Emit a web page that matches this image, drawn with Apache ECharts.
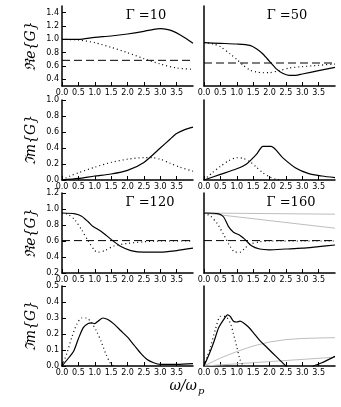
<!DOCTYPE html>
<html>
<head>
<meta charset="utf-8">
<script src="https://cdn.jsdelivr.net/npm/echarts@6/dist/echarts.min.js"></script>
<style>
html, body { margin: 0; padding: 0; background: #fff; }
#chart { width: 341px; height: 407px; }
</style>
</head>
<body>
<div id="chart"></div>
<script>
// tick labels
const xTicks = [0, 0.5, 1, 1.5, 2, 2.5, 3, 3.5]
const reTicksTop = [0.4, 0.6, 0.8, 1.0, 1.2, 1.4]
const imTicksTop = [0, 0.2, 0.4, 0.6, 0.8, 1.0]
const reTicksLow = [0.2, 0.4, 0.6, 0.8, 1.0, 1.2]
const imTicksLow = [0, 0.1, 0.2, 0.3, 0.4, 0.5]
const gammas = ['10', '50', '120', '160']

// Gamma = 10
const g10ReSolid = [[0, 1.0], [0.5, 1.0], [1.0, 1.03], [1.5, 1.05], [2.0, 1.08], [2.5, 1.12], [2.8, 1.15], [3.0, 1.16], [3.2, 1.15], [3.4, 1.12], [3.6, 1.07], [3.8, 1.01], [4.0, 0.94]]
const g10ReDotted = [[0, 1.0], [0.5, 0.99], [1.0, 0.95], [1.5, 0.88], [2.0, 0.80], [2.5, 0.71], [3.0, 0.63], [3.5, 0.57], [4.0, 0.55]]
const g10ReDashed = [[0, 0.685], [4, 0.685]]
const g10ImSolid = [[0, 0], [0.5, 0.02], [1.0, 0.05], [1.5, 0.075], [2.0, 0.12], [2.5, 0.22], [3.0, 0.40], [3.3, 0.51], [3.5, 0.58], [3.75, 0.63], [4.0, 0.66]]
const g10ImDotted = [[0, 0], [0.25, 0.05], [0.5, 0.09], [1.0, 0.16], [1.5, 0.22], [2.0, 0.26], [2.5, 0.28], [2.75, 0.28], [3.0, 0.26], [3.3, 0.21], [3.6, 0.16], [4.0, 0.11]]

// Gamma = 50
const g50ReSolid = [[0, 0.95], [0.5, 0.94], [1.0, 0.93], [1.4, 0.91], [1.6, 0.86], [1.8, 0.78], [2.0, 0.67], [2.2, 0.56], [2.4, 0.49], [2.6, 0.46], [2.8, 0.46], [3.0, 0.48], [3.5, 0.53], [4.0, 0.58]]
const g50ReDotted = [[0, 0.95], [0.3, 0.93], [0.5, 0.89], [0.8, 0.78], [1.0, 0.70], [1.2, 0.61], [1.4, 0.54], [1.6, 0.51], [1.8, 0.50], [2.0, 0.50], [2.3, 0.53], [2.6, 0.57], [3.0, 0.59], [3.5, 0.61], [4.0, 0.63]]
const g50ReDashed = [[0, 0.645], [4, 0.645]]
const g50ImSolid = [[0, 0], [0.5, 0.07], [1.0, 0.14], [1.3, 0.2], [1.6, 0.32], [1.8, 0.42], [2.05, 0.42], [2.4, 0.28], [2.8, 0.15], [3.2, 0.08], [3.6, 0.05], [4.0, 0.03]]
const g50ImDotted = [[0, 0], [0.25, 0.09], [0.5, 0.17], [0.75, 0.24], [1.0, 0.28], [1.2, 0.27], [1.4, 0.23], [1.6, 0.16], [1.8, 0.09], [2.0, 0.04], [2.2, 0.01], [2.4, 0.0]]

// Gamma = 120
const g120ReSolid = [[0, 0.95], [0.4, 0.94], [0.6, 0.91], [0.8, 0.84], [0.95, 0.78], [1.2, 0.72], [1.5, 0.62], [1.8, 0.53], [2.1, 0.48], [2.5, 0.46], [3.0, 0.46], [3.5, 0.48], [4.0, 0.51]]
const g120ReDotted = [[0, 0.95], [0.2, 0.93], [0.4, 0.86], [0.6, 0.74], [0.8, 0.60], [1.0, 0.48], [1.1, 0.46], [1.3, 0.48], [1.6, 0.54], [2.0, 0.57], [2.5, 0.59], [3.0, 0.6], [4.0, 0.6]]
const g120ReDashed = [[0, 0.605], [4, 0.605]]
const g120ImSolid = [[0, 0], [0.2, 0.05], [0.35, 0.09], [0.5, 0.17], [0.65, 0.24], [0.8, 0.265], [0.9, 0.27], [1.0, 0.265], [1.1, 0.28], [1.25, 0.30], [1.4, 0.29], [1.6, 0.26], [1.8, 0.22], [2.0, 0.18], [2.2, 0.13], [2.4, 0.08], [2.6, 0.04], [2.8, 0.02], [3.0, 0.01], [3.5, 0.01], [4.0, 0.015]]
const g120ImDotted = [[0, 0], [0.15, 0.08], [0.3, 0.18], [0.45, 0.26], [0.6, 0.3], [0.75, 0.3], [0.9, 0.27], [1.05, 0.22], [1.2, 0.15], [1.35, 0.07], [1.5, 0.01], [1.6, 0]]

// Gamma = 160
const g160ReSolid = [[0, 0.95], [0.45, 0.94], [0.6, 0.90], [0.75, 0.78], [0.9, 0.71], [1.1, 0.67], [1.25, 0.62], [1.45, 0.54], [1.7, 0.5], [2.0, 0.49], [2.5, 0.5], [3.0, 0.51], [3.5, 0.53], [4.0, 0.55]]
const g160ReDotted = [[0, 0.95], [0.2, 0.91], [0.4, 0.82], [0.6, 0.68], [0.8, 0.53], [0.95, 0.46], [1.1, 0.46], [1.25, 0.51], [1.4, 0.56], [1.7, 0.59], [2.0, 0.6], [3.0, 0.6], [4.0, 0.6]]
const g160ReDashed = [[0, 0.605], [4, 0.605]]
const g160ReGrayA = [[0, 0.95], [4, 0.935]]
const g160ReGrayB = [[0, 0.95], [4, 0.76]]
const g160ImSolid = [[0, 0], [0.15, 0.07], [0.3, 0.15], [0.45, 0.24], [0.6, 0.29], [0.72, 0.32], [0.8, 0.31], [0.9, 0.28], [1.0, 0.275], [1.1, 0.28], [1.2, 0.27], [1.35, 0.245], [1.5, 0.21], [1.7, 0.16], [1.9, 0.12], [2.1, 0.08], [2.3, 0.04], [2.5, 0.0], [2.7, -0.03], [3.0, -0.04], [3.35, 0.0], [3.6, 0.02], [4.0, 0.06]]
const g160ImDotted = [[0, 0], [0.1, 0.06], [0.2, 0.12], [0.35, 0.23], [0.5, 0.31], [0.65, 0.31], [0.8, 0.27], [0.9, 0.2], [1.0, 0.12], [1.1, 0.04], [1.2, 0]]
const g160ImGrayA = [[0, 0], [0.5, 0.05], [1.0, 0.09], [1.5, 0.125], [2.0, 0.15], [2.5, 0.165], [3.0, 0.172], [3.5, 0.175], [4.0, 0.177]]
const g160ImGrayB = [[0, 0], [4, 0.055]]

const rowTops = [6, 100, 193, 286]
const colLefts = [62, 204]
const yRanges = [[0.3, 1.5], [0, 1], [0.2, 1.2], [0, 0.5]]
const yTicks = [reTicksTop, imTicksTop, reTicksLow, imTicksLow]
const yNames = ['ℜe{G}', 'ℑm{G}', 'ℜe{G}', 'ℑm{G}']

const chart = echarts.init(document.getElementById('chart'))

const grids = []
const xAxes = []
const yAxes = []
for (let r = 0; r < 4; r++) {
  for (let c = 0; c < 2; c++) {
    grids.push({ left: colLefts[c], top: rowTops[r], width: 131, height: 80, containLabel: false })
    const gi = grids.length - 1
    xAxes.push({
      gridIndex: gi, type: 'value', min: 0, max: 4,
      axisLine: { lineStyle: { color: '#000', width: 1.5 } },
      axisTick: { inside: true, length: 4, customValues: xTicks, lineStyle: { color: '#000', width: 1 } },
      axisLabel: { customValues: xTicks, formatter: v => v.toFixed(1), fontSize: 8, color: '#000', margin: 3, fontFamily: 'DejaVu Sans' },
      splitLine: { show: false }
    })
    yAxes.push({
      gridIndex: gi, type: 'value', min: yRanges[r][0], max: yRanges[r][1],
      axisLine: { show: true, lineStyle: { color: '#000', width: 1.5 } },
      axisTick: { show: c === 0, inside: true, length: 4, customValues: yTicks[r], lineStyle: { color: '#000', width: 1 } },
      axisLabel: { show: c === 0, customValues: yTicks[r], formatter: v => v.toFixed(1), fontSize: 8, color: '#000', margin: 3, fontFamily: 'DejaVu Sans' },
      splitLine: { show: false },
      name: c === 0 ? yNames[r] : '',
      nameLocation: 'middle', nameRotate: 90, nameGap: 24,
      nameTextStyle: { fontFamily: 'DejaVu Serif', fontStyle: 'italic', fontSize: 14, color: '#000' }
    })
  }
}

const styles = {
  solid: { color: '#000', width: 1.2, type: 'solid' },
  dotted: { color: '#000', width: 1.2, type: [1, 3] },
  dashed: { color: '#000', width: 1, type: [8, 4] },
  gray: { color: '#bdbdbd', width: 1, type: 'solid' }
}
function line(gi, data, kind) {
  return {
    type: 'line', xAxisIndex: gi, yAxisIndex: gi, data: data,
    showSymbol: false, smooth: kind === 'solid' || kind === 'dotted' ? 0.25 : false,
    lineStyle: styles[kind], clip: true, silent: true, animation: false, z: kind === 'gray' ? 1 : 2
  }
}

const series = [
  line(0, g10ReDashed, 'dashed'), line(0, g10ReDotted, 'dotted'), line(0, g10ReSolid, 'solid'),
  line(1, g50ReDashed, 'dashed'), line(1, g50ReDotted, 'dotted'), line(1, g50ReSolid, 'solid'),
  line(2, g10ImDotted, 'dotted'), line(2, g10ImSolid, 'solid'),
  line(3, g50ImDotted, 'dotted'), line(3, g50ImSolid, 'solid'),
  line(4, g120ReDashed, 'dashed'), line(4, g120ReDotted, 'dotted'), line(4, g120ReSolid, 'solid'),
  line(5, g160ReGrayA, 'gray'), line(5, g160ReGrayB, 'gray'),
  line(5, g160ReDashed, 'dashed'), line(5, g160ReDotted, 'dotted'), line(5, g160ReSolid, 'solid'),
  line(6, g120ImDotted, 'dotted'), line(6, g120ImSolid, 'solid'),
  line(7, g160ImGrayA, 'gray'), line(7, g160ImGrayB, 'gray'),
  line(7, g160ImDotted, 'dotted'), line(7, g160ImSolid, 'solid')
]

// Gamma labels, top right of the Re panels
const titlePos = [[146, 16], [287, 16], [150, 203], [291, 203]]
const graphics = gammas.map((g, i) => ({
  type: 'text', x: titlePos[i][0], y: titlePos[i][1],
  style: { text: 'Γ =' + g, font: '13px "DejaVu Serif"', fill: '#000', align: 'center', verticalAlign: 'middle' }
}))
graphics.push({
  type: 'text', x: 197, y: 386,
  style: { text: 'ω/ω', font: 'italic 14px "DejaVu Serif"', fill: '#000', align: 'right', verticalAlign: 'middle' }
})
graphics.push({
  type: 'text', x: 198, y: 391,
  style: { text: 'p', font: 'italic 10px "DejaVu Serif"', fill: '#000', align: 'left', verticalAlign: 'middle' }
})

chart.setOption({
  animation: false,
  grid: grids,
  xAxis: xAxes,
  yAxis: yAxes,
  series: series,
  graphic: graphics
})
</script>
</body>
</html>
